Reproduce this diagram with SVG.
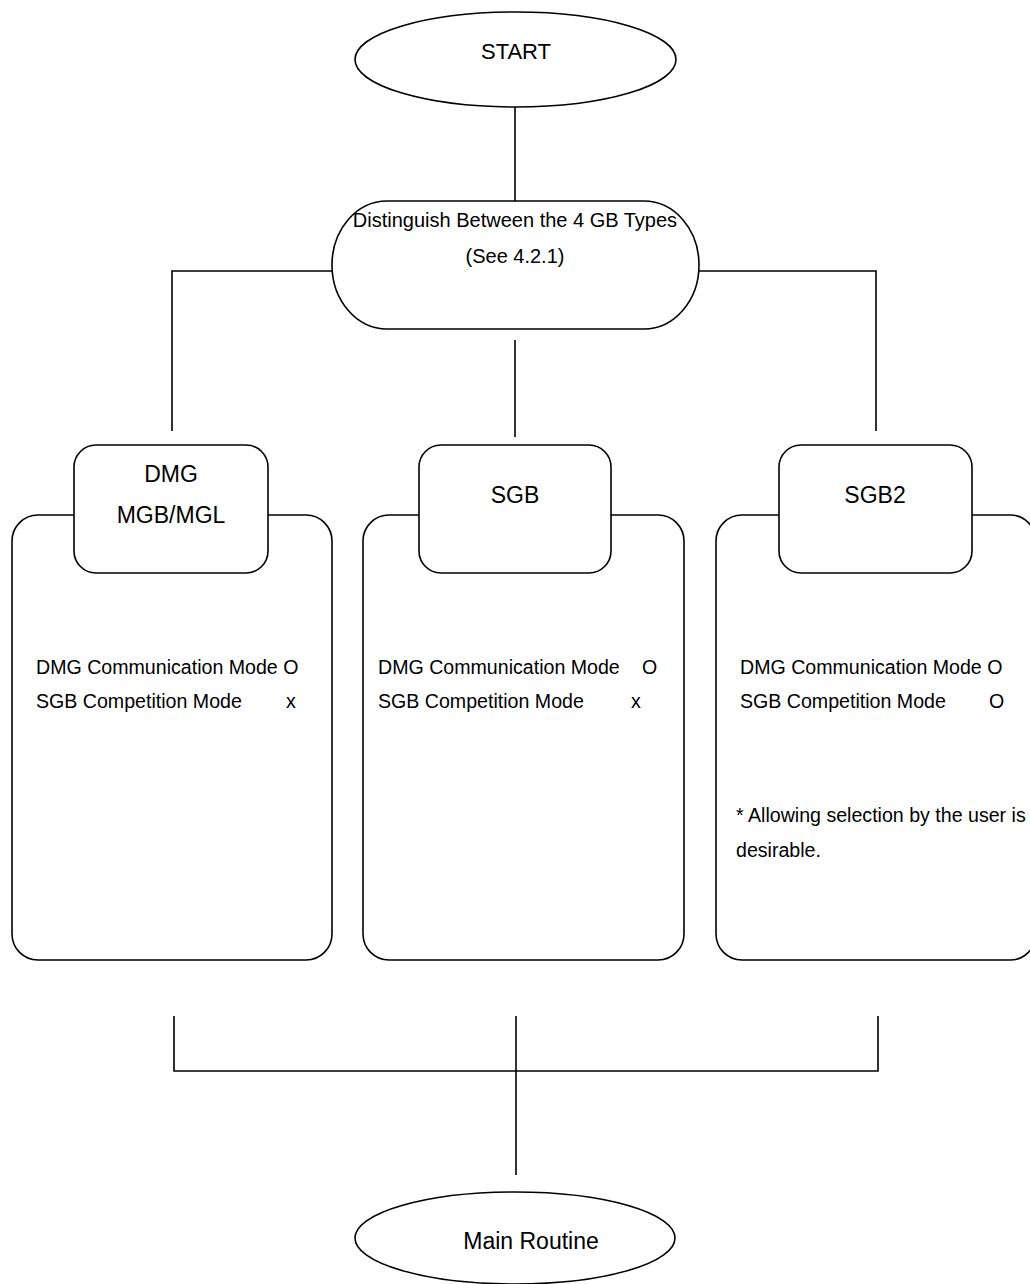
<svg xmlns="http://www.w3.org/2000/svg" width="1030" height="1284" viewBox="0 0 1030 1284">
<style>
.s{fill:#fff;stroke:#000;stroke-width:1.6}
.c{fill:none;stroke:#000;stroke-width:1.6}
.t{font-family:"Liberation Sans",Arial,sans-serif;fill:#000}
.h{font-size:23px;text-anchor:middle}
.b{font-size:19.6px}
</style>
<rect width="1030" height="1284" fill="#fff"/>
<g id="connectors">
<path class="c" d="M515,107V201"/>
<path class="c" d="M332,271H172V431"/>
<path class="c" d="M699,271H876V431"/>
<path class="c" d="M515,340V437"/>
<path class="c" d="M174,1016V1071H878V1016"/>
<path class="c" d="M516,1016V1175"/>
</g>
<g id="start">
<ellipse class="s" cx="515.5" cy="59.5" rx="160.5" ry="47.5"/>
<text class="t h" x="516" y="59" style="font-size:22px">START</text>
</g>
<g id="distinguish">
<rect class="s" x="332" y="201" width="367" height="128" rx="55" ry="64"/>
<text class="t" x="515" y="227" text-anchor="middle" font-size="20">Distinguish Between the 4 GB Types</text>
<text class="t" x="515" y="263" text-anchor="middle" font-size="20">(See 4.2.1)</text>
</g>
<g id="dmg">
<rect class="s" x="12" y="515" width="320" height="445" rx="26" ry="26"/>
<rect class="s" x="74" y="445" width="194" height="128" rx="22" ry="22"/>
<text class="t h" x="171" y="482">DMG</text>
<text class="t h" x="171" y="523">MGB/MGL</text>
<text class="t b" x="36" y="674">DMG Communication Mode O</text>
<text class="t b" x="36" y="708">SGB Competition Mode<tspan x="286">x</tspan></text>
</g>
<g id="sgb">
<rect class="s" x="363" y="515" width="321" height="445" rx="26" ry="26"/>
<rect class="s" x="419" y="445" width="192" height="128" rx="22" ry="22"/>
<text class="t h" x="515" y="503">SGB</text>
<text class="t b" x="378" y="674">DMG Communication Mode<tspan x="642">O</tspan></text>
<text class="t b" x="378" y="708">SGB Competition Mode<tspan x="631">x</tspan></text>
</g>
<g id="sgb2">
<rect class="s" x="716" y="515" width="320" height="445" rx="26" ry="26"/>
<rect class="s" x="779" y="445" width="193" height="128" rx="22" ry="22"/>
<text class="t h" x="875" y="503">SGB2</text>
<text class="t b" x="740" y="674">DMG Communication Mode O</text>
<text class="t b" x="740" y="708">SGB Competition Mode<tspan x="989">O</tspan></text>
<text class="t b" x="736" y="822">* Allowing selection by the user is</text>
<text class="t b" x="736" y="857">desirable.</text>
</g>
<g id="main">
<ellipse class="s" cx="515" cy="1238" rx="160" ry="46"/>
<text class="t h" x="531" y="1249">Main Routine</text>
</g>
</svg>
